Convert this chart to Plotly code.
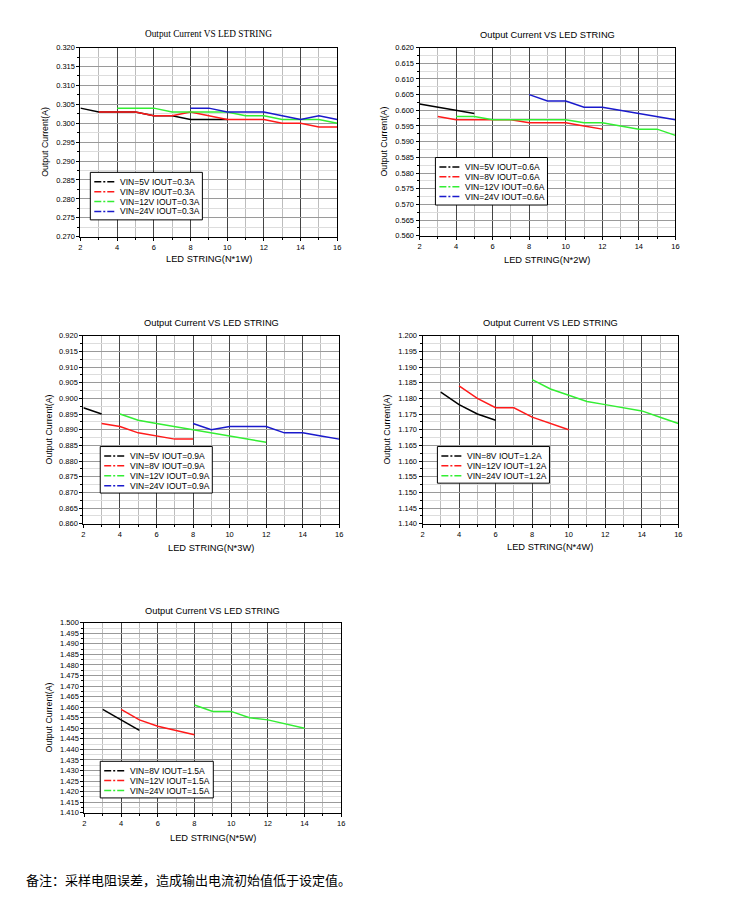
import plotly.graph_objects as go

W, H = 734, 901
OFF = 8  # browser default body margin (each side)

# ---------------- data ----------------
# Panel 1: IOUT = 0.3A
p1_x_5v = [2, 3, 4, 5, 6, 7, 8, 9, 10]
p1_y_5v = [0.304, 0.303, 0.303, 0.303, 0.302, 0.302, 0.301, 0.301, 0.301]
p1_x_8v = [3, 4, 5, 6, 7, 8, 9, 10, 11, 12, 13, 14, 15, 16]
p1_y_8v = [0.303, 0.303, 0.303, 0.302, 0.302, 0.303, 0.302, 0.301, 0.301, 0.301, 0.300, 0.300, 0.299, 0.299]
p1_x_12v = [4, 5, 6, 7, 8, 9, 10, 11, 12, 13, 14, 15, 16]
p1_y_12v = [0.304, 0.304, 0.304, 0.303, 0.303, 0.303, 0.303, 0.302, 0.302, 0.301, 0.301, 0.301, 0.300]
p1_x_24v = [8, 9, 10, 11, 12, 13, 14, 15, 16]
p1_y_24v = [0.304, 0.304, 0.303, 0.303, 0.303, 0.302, 0.301, 0.302, 0.301]

# Panel 2: IOUT = 0.6A
p2_x_5v = [2, 3, 4, 5]
p2_y_5v = [0.602, 0.601, 0.600, 0.599]
p2_x_8v = [3, 4, 5, 6, 7, 8, 9, 10, 11, 12]
p2_y_8v = [0.598, 0.597, 0.597, 0.597, 0.597, 0.596, 0.596, 0.596, 0.595, 0.594]
p2_x_12v = [4, 5, 6, 7, 8, 9, 10, 11, 12, 13, 14, 15, 16]
p2_y_12v = [0.598, 0.598, 0.597, 0.597, 0.597, 0.597, 0.597, 0.596, 0.596, 0.595, 0.594, 0.594, 0.592]
p2_x_24v = [8, 9, 10, 11, 12, 13, 14, 15, 16]
p2_y_24v = [0.605, 0.603, 0.603, 0.601, 0.601, 0.600, 0.599, 0.598, 0.597]

# Panel 3: IOUT = 0.9A
p3_x_5v = [2, 3]
p3_y_5v = [0.897, 0.895]
p3_x_8v = [3, 4, 5, 6, 7, 8]
p3_y_8v = [0.892, 0.891, 0.889, 0.888, 0.887, 0.887]
p3_x_12v = [4, 5, 6, 7, 8, 9, 10, 11, 12]
p3_y_12v = [0.895, 0.893, 0.892, 0.891, 0.890, 0.889, 0.888, 0.887, 0.886]
p3_x_24v = [8, 9, 10, 11, 12, 13, 14, 15, 16]
p3_y_24v = [0.892, 0.890, 0.891, 0.891, 0.891, 0.889, 0.889, 0.888, 0.887]

# Panel 4: IOUT = 1.2A
p4_x_8v = [3, 4, 5, 6]
p4_y_8v = [1.182, 1.178, 1.175, 1.173]
p4_x_12v = [4, 5, 6, 7, 8, 9, 10]
p4_y_12v = [1.184, 1.180, 1.177, 1.177, 1.174, 1.172, 1.170]
p4_x_24v = [8, 9, 10, 11, 12, 13, 14, 15, 16]
p4_y_24v = [1.186, 1.183, 1.181, 1.179, 1.178, 1.177, 1.176, 1.174, 1.172]

# Panel 5: IOUT = 1.5A
p5_x_8v = [3, 4, 5]
p5_y_8v = [1.459, 1.454, 1.449]
p5_x_12v = [4, 5, 6, 7, 8]
p5_y_12v = [1.459, 1.454, 1.451, 1.449, 1.447]
p5_x_24v = [8, 9, 10, 11, 12, 13, 14]
p5_y_24v = [1.461, 1.458, 1.458, 1.455, 1.454, 1.452, 1.450]

p1_labels = ["VIN=5V IOUT=0.3A", "VIN=8V IOUT=0.3A", "VIN=12V IOUT=0.3A", "VIN=24V IOUT=0.3A"]
p2_labels = ["VIN=5V IOUT=0.6A", "VIN=8V IOUT=0.6A", "VIN=12V IOUT=0.6A", "VIN=24V IOUT=0.6A"]
p3_labels = ["VIN=5V IOUT=0.9A", "VIN=8V IOUT=0.9A", "VIN=12V IOUT=0.9A", "VIN=24V IOUT=0.9A"]
p4_labels = ["VIN=8V IOUT=1.2A", "VIN=12V IOUT=1.2A", "VIN=24V IOUT=1.2A"]
p5_labels = ["VIN=8V IOUT=1.5A", "VIN=12V IOUT=1.5A", "VIN=24V IOUT=1.5A"]

x_titles = ["LED STRING(N*1W)", "LED STRING(N*2W)", "LED STRING(N*3W)",
            "LED STRING(N*4W)", "LED STRING(N*5W)"]
y_ranges = [[0.270, 0.320], [0.560, 0.620], [0.860, 0.920], [1.140, 1.200], [1.410, 1.500]]
chart_title = "Output Current VS LED STRING"
y_title = "Output Current(A)"
note = "备注：采样电阻误差，造成输出电流初始值低于设定值。"

C_BLACK, C_RED, C_GREEN, C_BLUE = "#000000", "#ff1a1a", "#33ee33", "#1a1acc"

series = [
    [(p1_x_5v, p1_y_5v, C_BLACK), (p1_x_8v, p1_y_8v, C_RED), (p1_x_12v, p1_y_12v, C_GREEN), (p1_x_24v, p1_y_24v, C_BLUE)],
    [(p2_x_5v, p2_y_5v, C_BLACK), (p2_x_8v, p2_y_8v, C_RED), (p2_x_12v, p2_y_12v, C_GREEN), (p2_x_24v, p2_y_24v, C_BLUE)],
    [(p3_x_5v, p3_y_5v, C_BLACK), (p3_x_8v, p3_y_8v, C_RED), (p3_x_12v, p3_y_12v, C_GREEN), (p3_x_24v, p3_y_24v, C_BLUE)],
    [(p4_x_8v, p4_y_8v, C_BLACK), (p4_x_12v, p4_y_12v, C_RED), (p4_x_24v, p4_y_24v, C_GREEN)],
    [(p5_x_8v, p5_y_8v, C_BLACK), (p5_x_12v, p5_y_12v, C_RED), (p5_x_24v, p5_y_24v, C_GREEN)],
]
labels = [p1_labels, p2_labels, p3_labels, p4_labels, p5_labels]

# ---------------- layout (pixel geometry, page coordinates) ----------------
panels = [
    dict(l=79, r=338, t=44, b=235, title_y=30, xt_y=258, yt_x=43, leg=(89, 170, 113, 48), tfont="Liberation Serif"),
    dict(l=421, r=679, t=44, b=234, title_y=31, xt_y=259, yt_x=385, leg=(437, 155, 113, 48), tfont="Liberation Sans"),
    dict(l=82, r=340, t=335, b=525, title_y=322, xt_y=550, yt_x=47, leg=(99, 447, 113, 47), tfont="Liberation Sans"),
    dict(l=424, r=682, t=335, b=525, title_y=322, xt_y=549, yt_x=388, leg=(439, 447, 113, 37), tfont="Liberation Sans"),
    dict(l=83, r=342, t=625, b=817, title_y=613, xt_y=842, yt_x=47, leg=(99, 765, 114, 37), tfont="Liberation Sans"),
]

FW, FH = W - 2 * OFF, H - 2 * OFF

def fx(px):
    return (px - OFF) / FW

def fy(py):
    return 1 - (py - OFF) / FH

SANS = "Liberation Sans, Arial, sans-serif"
fig = go.Figure()
layout = dict(width=FW, height=FH, margin=dict(l=0, r=0, t=0, b=0),
              paper_bgcolor="white", plot_bgcolor="white", showlegend=False)
annotations = []
shapes = []

for i, (p, ser, labs, xt, yr) in enumerate(zip(panels, series, labels, x_titles, y_ranges)):
    n = "" if i == 0 else str(i + 1)
    xa, ya = "xaxis" + n, "yaxis" + n
    for (xs, ys, c) in ser:
        fig.add_trace(go.Scatter(x=xs, y=ys, mode="lines", line=dict(color=c, width=1.5),
                                 xaxis="x" + n, yaxis="y" + n, showlegend=False, hoverinfo="skip"))
    layout[xa] = dict(domain=[fx(p["l"]), fx(p["r"])], anchor="y" + n, range=[2, 16],
                      tick0=2, dtick=2, ticks="outside", ticklen=3, tickcolor="black",
                      showline=True, linecolor="black", linewidth=1, mirror=True,
                      showgrid=True, gridcolor="#444444", gridwidth=1, zeroline=False,
                      tickfont=dict(family=SANS, size=7.5, color="black"),
                      minor=dict(dtick=1, tick0=2, showgrid=True, gridcolor="#bdbdbd", gridwidth=1,
                                 ticks="outside", ticklen=2, tickcolor="black"))
    layout[ya] = dict(domain=[fy(p["b"]), fy(p["t"])], anchor="x" + n, range=yr,
                      tick0=yr[0], dtick=0.005, tickformat=".3f", ticks="outside", ticklen=3,
                      tickcolor="black", showline=True, linecolor="black", linewidth=1, mirror=True,
                      showgrid=True, gridcolor="#9a9a9a", gridwidth=1, zeroline=False,
                      tickfont=dict(family=SANS, size=7.5, color="black"),
                      minor=dict(dtick=0.0025, showgrid=True, gridcolor="#dddddd", gridwidth=1,
                                 ticks="outside", ticklen=2, tickcolor="black"))
    cx = (p["l"] + p["r"]) / 2
    annotations.append(dict(text=chart_title, x=fx(cx), y=fy(p["title_y"]), xref="paper", yref="paper",
                            showarrow=False, xanchor="center", yanchor="middle",
                            font=dict(family=p["tfont"], size=9.3, color="black")))
    annotations.append(dict(text=xt, x=fx(cx), y=fy(p["xt_y"]), xref="paper", yref="paper",
                            showarrow=False, xanchor="center", yanchor="middle",
                            font=dict(family=SANS, size=9.3, color="black")))
    annotations.append(dict(text=y_title, x=fx(p["yt_x"]), y=fy((p["t"] + p["b"]) / 2), xref="paper",
                            yref="paper", showarrow=False, xanchor="center", yanchor="middle",
                            textangle=-90, font=dict(family=SANS, size=8.8, color="black")))
    # legend box
    lx, ly, lw, lh = p["leg"]
    shapes.append(dict(type="rect", xref="paper", yref="paper", x0=fx(lx), x1=fx(lx + lw),
                       y0=fy(ly + lh), y1=fy(ly), line=dict(color="black", width=1), fillcolor="white",
                       layer="above"))
    for k, ((xs, ys, c), lab) in enumerate(zip(ser, labs)):
        ry = ly + 9.5 + k * 10
        shapes.append(dict(type="line", xref="paper", yref="paper", x0=fx(lx + 4), x1=fx(lx + 25),
                           y0=fy(ry), y1=fy(ry), line=dict(color=c, width=1.5, dash="7px,2px,2px,2px"),
                           layer="above"))
        annotations.append(dict(text=lab, x=fx(lx + 28), y=fy(ry), xref="paper", yref="paper",
                                showarrow=False, xanchor="left", yanchor="middle",
                                font=dict(family=SANS, size=8.5, color="black")))

annotations.append(dict(text=note, x=fx(22), y=fy(884), xref="paper", yref="paper", showarrow=False,
                        xanchor="left", yanchor="middle",
                        font=dict(family="Noto Sans CJK SC, sans-serif", size=13, color="black")))

layout["annotations"] = annotations
layout["shapes"] = shapes
fig.update_layout(**layout)
fig.write_html("out.html")
